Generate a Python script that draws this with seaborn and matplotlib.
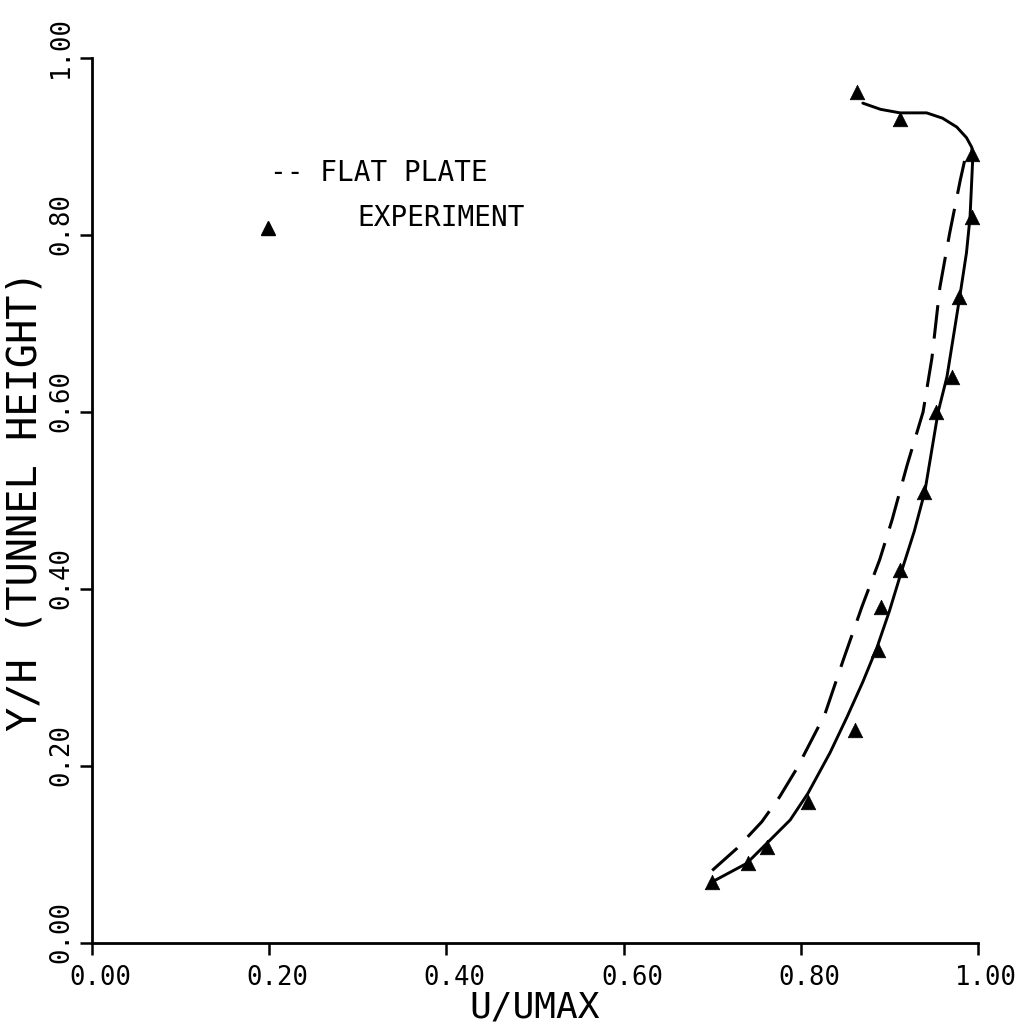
import numpy as np
import pandas as pd
import matplotlib
matplotlib.use("Agg")
import matplotlib.pyplot as plt
import matplotlib.transforms as mtransforms
import seaborn as sns

# experiment points (U/UMAX, Y/H)
exp_u = [0.700, 0.740, 0.762, 0.808, 0.861, 0.887, 0.891, 0.912, 0.939, 0.953,
         0.971, 0.979, 0.993, 0.993, 0.912, 0.863]
exp_y = [0.069, 0.090, 0.108, 0.159, 0.241, 0.331, 0.380, 0.421, 0.510, 0.600,
         0.640, 0.730, 0.820, 0.892, 0.931, 0.962]

# computed profile (solid)
calc_u = [0.698, 0.739, 0.765, 0.788, 0.808, 0.833, 0.852, 0.870, 0.886, 0.900,
          0.914, 0.928, 0.940, 0.955, 0.965, 0.973, 0.980, 0.987, 0.991, 0.994,
          0.993, 0.987, 0.976, 0.960, 0.942, 0.912, 0.890, 0.870]
calc_y = [0.068, 0.090, 0.116, 0.139, 0.169, 0.215, 0.255, 0.295, 0.334, 0.375,
          0.421, 0.465, 0.510, 0.600, 0.640, 0.690, 0.734, 0.780, 0.820, 0.885,
          0.899, 0.910, 0.922, 0.932, 0.938, 0.938, 0.942, 0.949]

# flat plate profile (dashed)
flat_u = [0.700, 0.728, 0.756, 0.776, 0.796, 0.827, 0.848, 0.869, 0.889, 0.903,
          0.920, 0.938, 0.948, 0.957, 0.968, 0.980, 0.988]
flat_y = [0.082, 0.107, 0.137, 0.165, 0.198, 0.258, 0.320, 0.380, 0.433, 0.478,
          0.540, 0.600, 0.661, 0.741, 0.802, 0.862, 0.898]

ticks = [0.0, 0.2, 0.4, 0.6, 0.8, 1.0]
tick_labels = ["0.00", "0.20", "0.40", "0.60", "0.80", "1.00"]

exp = pd.DataFrame({"u": exp_u, "y": exp_y})
calc = pd.DataFrame({"u": calc_u, "y": calc_y})
flat = pd.DataFrame({"u": flat_u, "y": flat_y})

sns.set_style("ticks")
plt.rcParams["font.family"] = ["DejaVu Sans Mono", "DejaVu Sans"]
plt.rcParams["text.color"] = "black"
plt.rcParams["axes.labelcolor"] = "black"

fig = plt.figure(figsize=(10.32, 10.30), dpi=100)
ax = fig.add_axes([92 / 1032, 1 - 943 / 1030, 886 / 1032, 885 / 1030])

sns.lineplot(data=calc, x="u", y="y", sort=False, estimator=None,
             color="black", lw=2.1, ax=ax)
sns.lineplot(data=flat, x="u", y="y", sort=False, estimator=None,
             color="black", lw=2.2, ax=ax, dashes=False,
             linestyle=(0, (11, 5)))
sns.scatterplot(data=exp, x="u", y="y", marker="^", s=110, color="black",
                edgecolor="black", linewidth=0.5, ax=ax, zorder=5, clip_on=False)

# legend drawn by hand like the plotter did
ax.text(0.201, 0.870, "-- FLAT PLATE", fontsize=20, va="center", ha="left")
ax.plot([0.199], [0.808], marker="^", ms=10, color="black", ls="none")
ax.text(0.300, 0.819, "EXPERIMENT", fontsize=20, va="center", ha="left")

ax.set_xlim(0, 1)
ax.set_ylim(0, 1)
ax.set_xticks(ticks)
ax.set_yticks(ticks)
ax.set_xticklabels([])
ax.set_yticklabels([])
ax.tick_params(axis="both", direction="out", length=8.5, width=1.8,
               color="black")

# tick labels with the decimal point sitting on the tick, as in the original
xoff = mtransforms.offset_copy(ax.get_xaxis_transform(), fig=fig, x=6, y=-16,
                               units="points")
yoff = mtransforms.offset_copy(ax.get_yaxis_transform(), fig=fig, x=-13, y=8,
                               units="points")
for t, lab in zip(ticks, tick_labels):
    ax.text(t, 0, lab, transform=xoff, fontsize=18.5, ha="center", va="top")
    ax.text(0, t, lab, transform=yoff, fontsize=18.5, ha="right", va="center",
            rotation=90)

ax.set_xlabel("U/UMAX", fontsize=26)
ax.set_ylabel("Y/H (TUNNEL HEIGHT)", fontsize=29)
ax.xaxis.set_label_coords(0.5, -0.054)
ax.yaxis.set_label_coords(-0.052, 0.5)

sns.despine(ax=ax)
for side in ["left", "bottom"]:
    ax.spines[side].set_linewidth(2)
    ax.spines[side].set_color("black")

fig.savefig("out.png", dpi=100, facecolor="white")
